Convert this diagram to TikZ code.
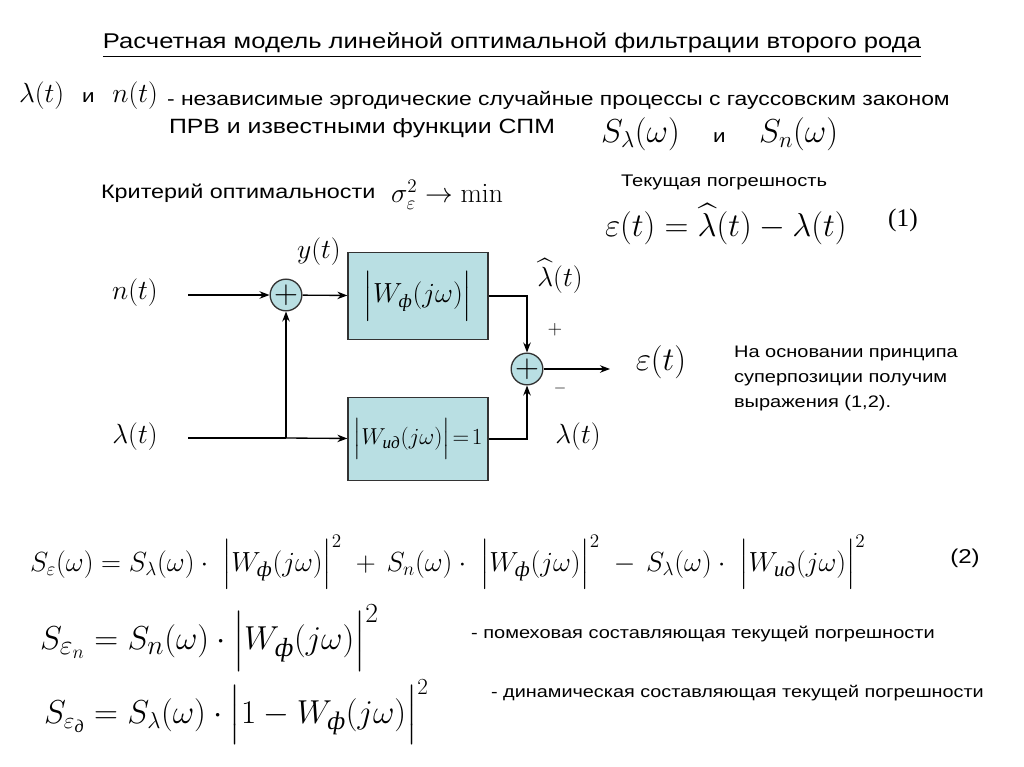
\documentclass[tikz,border=0pt]{standalone}
\usepackage{amsmath}
\usepackage[no-math]{fontspec}
\setmainfont[FakeStretch=1.2]{Liberation Sans}
\newfontfamily\cyrserif{Liberation Serif}
\usetikzlibrary{positioning,arrows.meta}
\newcommand{\cyr}[1]{\text{\cyrserif\itshape #1}}
\newcommand{\Wf}{W_{\cyr{ф}}}
\newcommand{\Wid}{W_{\cyr{ид}}}
\newcommand{\fsz}[1]{\fontsize{#1}{#1}\selectfont}
\definecolor{blockfill}{RGB}{185,223,227}

\begin{document}
\begin{tikzpicture}[>=Stealth, x=0.75pt, y=-0.75pt, line width=1pt,
    block/.style={draw=black!80, fill=blockfill, minimum width=105pt, inner sep=0pt},
    summer/.style={circle, draw=black!80, fill=blockfill, minimum size=22pt, inner sep=0pt,
                   font=\fsz{24}},
    sig/.style={font=\fsz{22}},
    txt/.style={anchor=west}]
  \useasboundingbox (0,0) rectangle (1024,767);

  % Header
  \node (title) at (512,45) {\fsz{16}%
    \underline{Расчетная модель линейной оптимальной фильтрации второго рода}};
  \node[anchor=west, font=\fsz{20}] (procs) at (14,96)
    {$\lambda(t)$\ \ {\fsz{14}и}\ \ $n(t)$};
  \node[txt, font=\fsz{14.3}] (desc1) at (162,100)
    {- независимые эргодические случайные процессы с гауссовским законом};
  \node[txt, font=\fsz{15.5}] (desc2) at (164,128) {ПРВ и известными функции СПМ};
  \node[anchor=west, font=\fsz{25}] (spm) at (596,134)
    {$S_{\lambda}(\omega)$\ \ \ {\fsz{14}и}\ \ \ $S_{n}(\omega)$};
  \node[txt, font=\fsz{14.6}] (crit) at (96,193) {Критерий оптимальности};
  \node[anchor=west, font=\fsz{22}] (sigma) at (386,195)
    {$\sigma_{\varepsilon}^{2}\to\min$};
  \node[txt, font=\fsz{12.6}, inner sep=1pt] (cur) at (619,182) {Текущая погрешность};
  \node[anchor=west, font=\fsz{26}, inner sep=1pt] (eq1) at (603,224)
    {$\varepsilon(t)=\widehat{\lambda}(t)-\lambda(t)$};
  \node[font=\cyrserif\fsz{19}] (eq1num) at (903,220) {(1)};

  % Block diagram
  \node[summer] (sum1) at (286,295) {$+$};
  \node[block, minimum height=65pt] (wf) at (418,296)
    {\fsz{20}$\Bigl|\Wf(j\omega)\Bigr|$};
  \node[block, minimum height=62pt] (wid) at (418,439)
    {\fsz{18.5}$\Bigl|\Wid(j\omega)\Bigr|\!=\!1$};
  \node[summer] (sum2) at (527,369) {$+$};

  \node[sig] (nlab) at (135,293) {$n(t)$};
  \node[sig] (lamlab) at (135,437) {$\lambda(t)$};
  \node[sig] (ylab) at (319,252) {$y(t)$};
  \node[sig] (lamhat) at (560,276) {$\widehat{\lambda}(t)$};
  \node[sig] (lamout) at (578,437) {$\lambda(t)$};
  \node[font=\fsz{29}] (eps) at (661,362) {$\varepsilon(t)$};
  \node[font=\fsz{14}] (plus) at (555,330) {$+$};
  \node[font=\fsz{12}] (minus) at (560,388) {$-$};

  \coordinate (nin) at (188,295);
  \coordinate (lamin) at (188,438);
  \coordinate (split) at (286,438);
  \coordinate (out) at (610,369);

  \draw[->] (nin) -- (sum1);
  \draw (lamin) -- (split);
  \draw[->] (split) -- (sum1);
  \draw[->] (split) -- (wid);
  \draw[->] (sum1) -- (wf);
  \draw[->] (wf.east) -| (sum2);
  \draw[->] (wid.east) -| (sum2);
  \draw[->] (sum2) -- (out);

  \node[anchor=west, align=left, font=\fontsize{12.5}{18.75}\selectfont] (note) at (729,378)
    {На основании принципа\\суперпозиции получим\\выражения (1,2).};

  % Spectral densities
  \node[anchor=west, font=\fsz{22.5}, inner sep=1pt] (eq2) at (28,562)
    {$S_{\varepsilon}(\omega)=S_{\lambda}(\omega)\cdot\;\Bigl|\Wf(j\omega)\Bigr|^{2}\;
     +\,S_{n}(\omega)\cdot\;\Bigl|\Wf(j\omega)\Bigr|^{2}\;
     -\,S_{\lambda}(\omega)\cdot\;\Bigl|\Wid(j\omega)\Bigr|^{2}$};
  \node[font=\fsz{15}] (eq2num) at (965,558) {(2)};
  \node[anchor=west, font=\fsz{28}, inner sep=1pt] (eqn) at (38,638)
    {$S_{\varepsilon_{n}}=S_{n}(\omega)\cdot\Bigl|\Wf(j\omega)\Bigr|^{2}$};
  \node[txt, font=\fsz{12.5}] (noise) at (466,634) {- помеховая составляющая текущей погрешности};
  \node[anchor=west, font=\fsz{27}, inner sep=1pt] (eqd) at (42,712)
    {$S_{\varepsilon_{\cyr{д}}}=S_{\lambda}(\omega)\cdot\Bigl|1-\Wf(j\omega)\Bigr|^{2}$};
  \node[txt, font=\fsz{12.4}] (dyn) at (486,693) {- динамическая составляющая текущей погрешности};
\end{tikzpicture}
\end{document}
